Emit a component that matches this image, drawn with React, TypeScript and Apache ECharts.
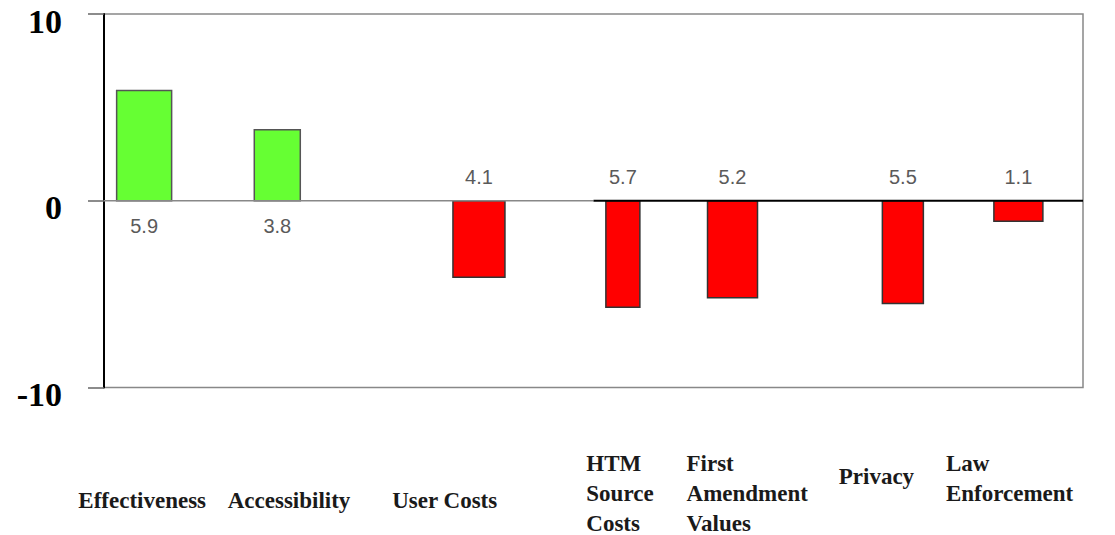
import React, { useEffect, useRef } from "react";
import * as echarts from "echarts";

// ---- data ----
const categories = [
  "Effectiveness",
  "Accessibility",
  "User Costs",
  "HTM\nSource\nCosts",
  "First\nAmendment\nValues",
  "Privacy",
  "Law\nEnforcement",
];
const values = [5.9, 3.8, -4.1, -5.7, -5.2, -5.5, -1.1];
const yTicks = [-10, 0, 10];

// ---- layout (x in axis units 0..100, widths in px) ----
const barCenters = [4.1, 17.7, 38.3, 53.0, 64.2, 81.6, 93.4];
const barWidths = [55, 46, 52, 34, 50, 41, 49];
const labelCenters = [3.9, 18.9, 34.8, 52.7, 65.7, 78.9, 92.5];
const labelStyles = ["low", "low", "low", "m", "m", "mid", "m"];
const zeroSplit = 50;

const POS = "#66FF33";
const NEG = "#FF0000";

export default function App() {
  const ref = useRef<HTMLDivElement>(null);
  useEffect(() => {
    document.body.style.margin = "0";
    const chart = echarts.init(ref.current!, null, { renderer: "svg" });
    const labelFont = {
      fontFamily: "Liberation Serif",
      fontWeight: "bold" as const,
      fontSize: 23,
      color: "#1a1a1a",
    };
    const yFont = {
      fontFamily: "Liberation Serif",
      fontWeight: "bold" as const,
      fontSize: 34,
      color: "#000",
    };
    chart.setOption({
      animation: false,
      backgroundColor: "#fff",
      grid: {
        left: 104,
        right: 32,
        top: 14,
        bottom: 147,
        show: true,
        borderColor: "#888",
        borderWidth: 1.5,
      },
      xAxis: {
        type: "value",
        min: 0,
        max: 100,
        axisLine: { show: false },
        axisTick: { show: false },
        splitLine: { show: false },
        axisLabel: {
          customValues: labelCenters,
          margin: 61,
          hideOverlap: false,
          ...labelFont,
          formatter: (v: number) => {
            const i = labelCenters.indexOf(v);
            if (i < 0) return "";
            const st = labelStyles[i];
            return categories[i]
              .split("\n")
              .map((l) => `{${st}|${l}}`)
              .join("\n");
          },
          rich: {
            m: { ...labelFont, align: "left", lineHeight: 30 },
            low: { ...labelFont, lineHeight: 104 },
            mid: { ...labelFont, lineHeight: 56 },
          },
        },
      },
      yAxis: {
        type: "value",
        min: yTicks[0],
        max: yTicks[yTicks.length - 1],
        interval: 10,
        axisLine: { show: true, lineStyle: { color: "#000", width: 2 } },
        axisTick: { show: true, length: 16, lineStyle: { color: "#666", width: 1.5 } },
        splitLine: { show: false },
        axisLabel: {
          margin: 42,
          ...yFont,
          formatter: (v: number) => `{y|${v}}`,
          rich: {
            y: { ...yFont, padding: [14, 0, 0, 0] },
          },
        },
      },
      series: [
        {
          type: "custom",
          encode: { x: 0, y: 1 },
          data: values.map((v, i) => [barCenters[i], v]),
          renderItem: (params: any, api: any) => {
            const i = params.dataIndex;
            const x = api.value(0);
            const v = api.value(1);
            const p0 = api.coord([x, 0]);
            const p1 = api.coord([x, v]);
            const w = barWidths[i];
            const top = Math.min(p0[1], p1[1]);
            const h = Math.abs(p1[1] - p0[1]);
            return {
              type: "group",
              children: [
                {
                  type: "rect",
                  shape: { x: p0[0] - w / 2, y: top, width: w, height: h },
                  style: {
                    fill: v >= 0 ? POS : NEG,
                    stroke: v >= 0 ? "#555" : "#333",
                    lineWidth: 1.5,
                  },
                },
                {
                  type: "text",
                  x: p0[0],
                  y: p0[1] + (v >= 0 ? 25 : -24),
                  style: {
                    text: Math.abs(v).toFixed(1),
                    align: "center",
                    verticalAlign: "middle",
                    fontFamily: "Liberation Sans",
                    fontSize: 20,
                    fill: "#5a5a5a",
                  },
                },
              ],
            };
          },
        },
        {
          type: "line",
          data: [
            [0, 0],
            [zeroSplit, 0],
          ],
          symbol: "none",
          silent: true,
          lineStyle: { color: "#888", width: 1.5 },
        },
        {
          type: "line",
          data: [
            [zeroSplit, 0],
            [100, 0],
          ],
          symbol: "none",
          silent: true,
          lineStyle: { color: "#000", width: 2 },
        },
      ],
    });
    return () => chart.dispose();
  }, []);
  return <div ref={ref} style={{ width: 1115, height: 535 }} />;
}
